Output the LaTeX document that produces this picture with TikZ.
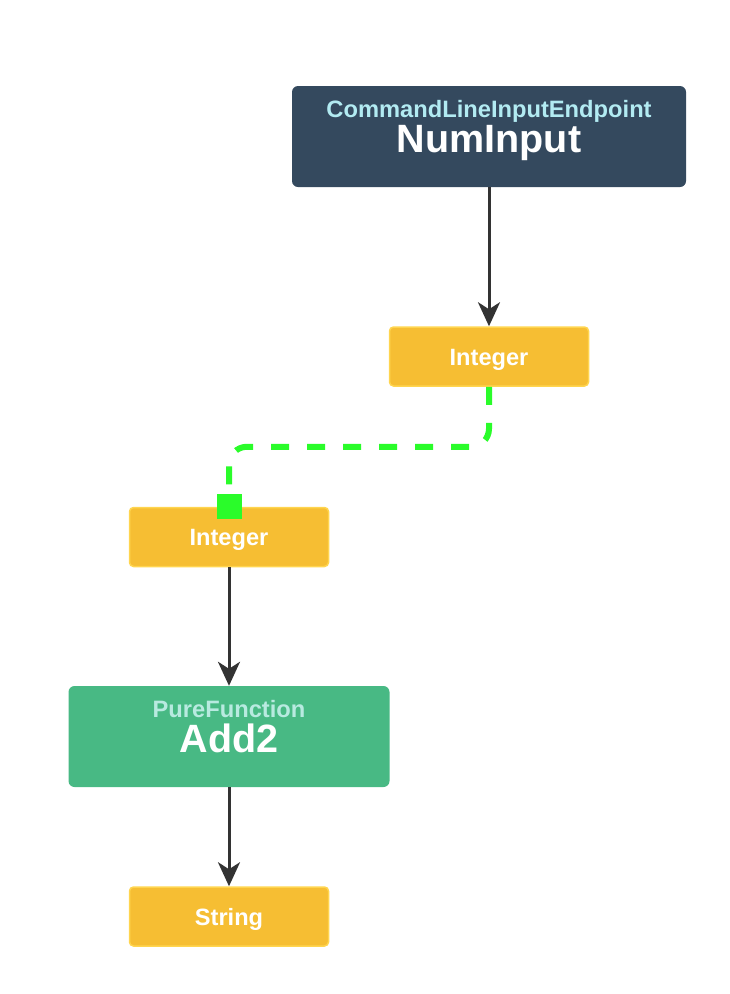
\documentclass[tikz,border=0pt]{standalone}
\usepackage{fontspec}
\setmainfont{Liberation Sans}
\usetikzlibrary{arrows.meta}
\definecolor{darkbox}{HTML}{34495E}
\definecolor{yelbox}{HTML}{F6BE33}
\definecolor{yelborder}{HTML}{FFD54F}
\definecolor{greenbox}{HTML}{48B984}
\definecolor{subcyan}{HTML}{B2EBF2}
\definecolor{submint}{HTML}{B8EAE0}
\definecolor{linkgreen}{HTML}{2AFC2A}
\definecolor{arrowgray}{HTML}{333333}
\tikzset{
  bigbox/.style={rounded corners=6pt, minimum width=394pt, minimum height=101pt, inner sep=0pt, draw=none},
  typebox/.style={rounded corners=4pt, fill=yelbox, draw=yelborder, line width=1.5pt, minimum width=199pt, minimum height=59pt, inner sep=0pt, text height=17pt, text depth=0pt, text=white, font=\bfseries\fontsize{23.6}{23.6}\selectfont},
  subtitle/.style={anchor=base, inner sep=0pt, font=\bfseries\fontsize{23.7}{23.7}\selectfont},
  title/.style={anchor=base, inner sep=0pt, text=white, font=\bfseries\fontsize{39.5}{39.5}\selectfont},
  flow/.style={draw=arrowgray, line width=3pt, -{Stealth[length=24pt,width=22pt,inset=7pt]}},
  link/.style={draw=linkgreen, line width=6pt, dash pattern=on 18pt off 18pt, rounded corners=18pt},
}
\begin{document}
\begin{tikzpicture}[x=1pt,y=-1pt]
\useasboundingbox (0,0) rectangle (730,994);
% NumInput
\node[bigbox, fill=darkbox] (numin) at (489,136.5) {};
\node[subtitle, text=subcyan] (numinsub) at (489,117) {CommandLineInputEndpoint};
\node[title] (numintitle) at (489,152) {NumInput};
% Integer output
\node[typebox] (int1) at (489,356.5) {Integer};
% Integer input
\node[typebox] (int2) at (229,537) {Integer};
% Add2
\node[bigbox, minimum width=321pt, fill=greenbox] (add) at (229,736.5) {};
\node[subtitle, text=submint] (addsub) at (229,717) {PureFunction};
\node[title] (addtitle) at (229,752) {Add2};
% String
\node[typebox] (str) at (229,916.5) {String};
% port
\node[fill=linkgreen, minimum width=25pt, minimum height=25pt, inner sep=0pt] (port) at (229,506.5) {};
% connectors
\draw[flow] (numin.south) -- (int1.north);
\draw[link] (int1.south) -- ++(0,60) -| (port.north);
\draw[flow] (int2.south) -- (add.north);
\draw[flow] (add.south) -- (str.north);
\end{tikzpicture}
\end{document}
